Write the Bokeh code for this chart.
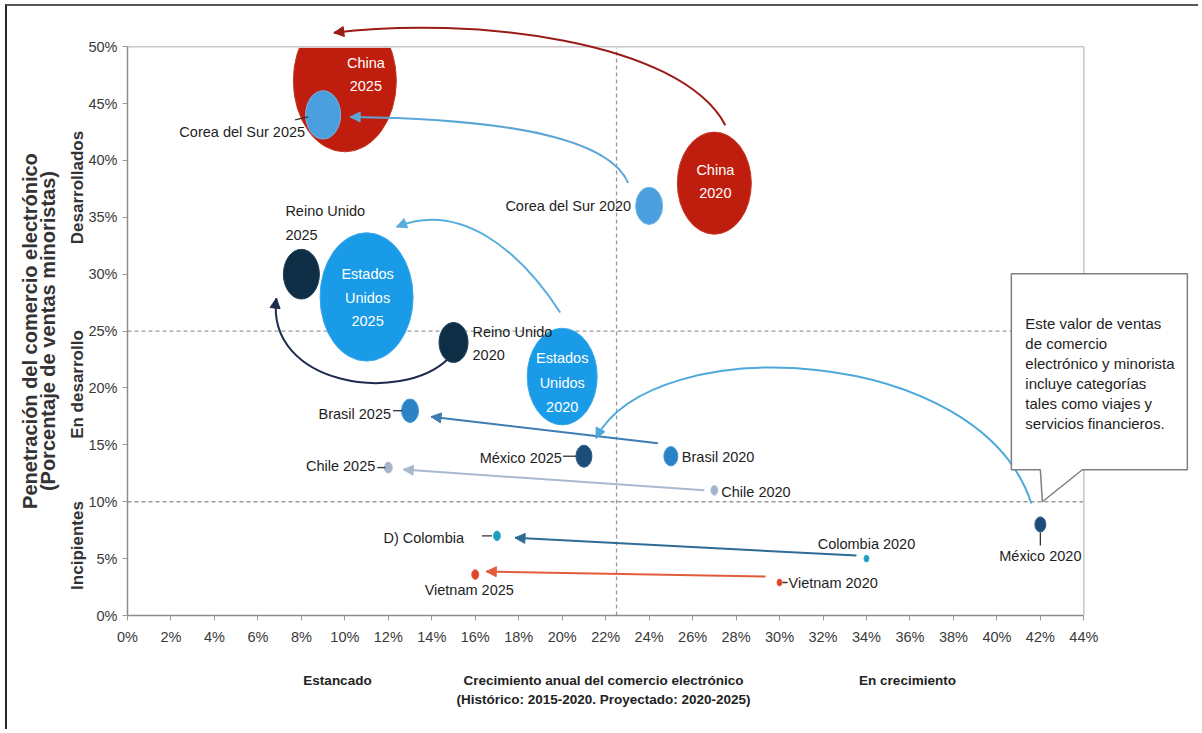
import numpy as np
from bokeh.plotting import figure
from bokeh.models import (ColumnDataSource, FixedTicker, Range1d, Arrow, NormalHead,
                          LinearAxis)
from bokeh.core.properties import value
from bokeh.embed import file_html
from bokeh.resources import INLINE

# ---------------- data ----------------
paises = ["China", "Corea del Sur", "Estados Unidos", "Reino Unido", "Brasil",
          "México", "Chile", "Colombia", "Vietnam"]
crecimiento_2020 = [27, 24, 20, 15, 25, 42, 27, 34, 30]
penetracion_2020 = [38, 36, 21, 24, 14, 8, 11, 5, 2.9]
crecimiento_2025 = [10, 9, 11, 8, 13, 21, 12, 17, 16]
penetracion_2025 = [47, 44, 28, 30, 18, 14, 13, 7, 3.6]
tamano_2020 = [7.4, 2.7, 7.0, 2.9, 1.4, 1.1, 0.7, 0.5, 0.5]
tamano_2025 = [10.3, 3.5, 9.3, 3.6, 1.7, 1.6, 0.8, 0.7, 0.7]

x_ticks = [0, 2, 4, 6, 8, 10, 12, 14, 16, 18, 20, 22, 24, 26, 28, 30, 32, 34, 36, 38, 40, 42, 44]
x_tick_labels = ["0%", "2%", "4%", "6%", "8%", "10%", "12%", "14%", "16%", "18%", "20%", "22%",
                 "24%", "26%", "28%", "30%", "32%", "34%", "36%", "38%", "40%", "42%", "44%"]
y_ticks = [0, 5, 10, 15, 20, 25, 30, 35, 40, 45, 50]
y_tick_labels = ["0%", "5%", "10%", "15%", "20%", "25%", "30%", "35%", "40%", "45%", "50%"]
umbral_crecimiento = 22.5
umbrales_penetracion = [10, 25]
grupos_crecimiento = ["Estancado",
                      "Crecimiento anual del comercio electrónico\n"
                      "(Histórico: 2015-2020. Proyectado: 2020-2025)",
                      "En crecimiento"]
grupos_penetracion = ["Desarrollados", "En desarrollo", "Incipientes"]
titulo_y = "Penetración del comercio electrónico\n(Porcentaje de ventas minoristas)"
nota = ["Este valor de ventas", "de comercio", "electrónico y minorista",
        "incluye categorías", "tales como viajes y", "servicios financieros."]

# ---------------- style ----------------
FONT = "Liberation Sans"
DARK = "#1e1e1e"
colores = ["#BF1E0E", "#4B9FDE", "#1A9BE7", "#0E2E46", "#2A83C6",
           "#1E4C78", "#A3B3C9", "#1C9CC0", "#E2432A"]
bordes = ["#C63A2A", "#76B6E6", "#3AA8EA", "#22415A", "#4A95CE",
          "#2F5D88", "#B5C2D4", "#3AAFCB", "#E5614A"]
flechas = ["#9B1B16", "#5CA6D6", "#5AAEDD", "#1D2B4F", "#3D7DB2",
           "#4CA9DA", "#A9BACF", "#2E6C97", "#E35B3D"]
ESCALA = 10.0       # px per size unit (horizontal)
ASPECTO = 1.38      # vertical / horizontal of each bubble

FX = 1065 / 49
FY = 603 / 53
FW, FH = 1065, 609
X0, X1 = 0, FW / FX
Y0, Y1 = 0, FH / FY


def px_of(x, y):
    return (x - X0) * FX, (Y1 - y) * FY


def data_of(px, py):
    return X0 + px / FX, Y1 - py / FY


def punto(i, anio):
    if anio == 2020:
        return crecimiento_2020[i], penetracion_2020[i]
    return crecimiento_2025[i], penetracion_2025[i]


def desplazado(i, anio, dx, dy):
    x, y = punto(i, anio)
    px, py = px_of(x, y)
    return data_of(px + dx, py + dy)


p = figure(width=1193, height=725, x_range=Range1d(X0, X1), y_range=Range1d(Y0, Y1),
           output_backend="svg", toolbar_location=None,
           min_border_left=120, min_border_right=8, min_border_top=0, min_border_bottom=116)
p.outline_line_color = None
p.background_fill_color = "white"
p.border_fill_color = "white"
p.grid.visible = False
p.styles = {"border-left": "2px solid #2a2a2a", "border-top": "2px solid #555555",
            "margin-left": "5px", "margin-top": "4px"}

# axes
for ax in (p.xaxis, p.yaxis):
    ax.axis_line_color = "#8C8C8C"
    ax.axis_line_width = 1.5
    ax.major_tick_line_color = "#9A9A9A"
    ax.major_tick_in = 0
    ax.major_tick_out = 5
    ax.minor_tick_line_color = None
    ax.major_label_text_font = FONT
    ax.major_label_text_font_size = "14.5px"
    ax.major_label_text_color = "#3a3a3a"
p.xaxis.ticker = FixedTicker(ticks=x_ticks)
p.xaxis.major_label_overrides = {t: l for t, l in zip(x_ticks, x_tick_labels)}
p.xaxis.bounds = (x_ticks[0], x_ticks[-1])
p.xaxis.major_label_standoff = 8
p.yaxis.ticker = FixedTicker(ticks=y_ticks)
p.yaxis.major_label_overrides = {t: l for t, l in zip(y_ticks, y_tick_labels)}
p.yaxis.bounds = (y_ticks[0], y_ticks[-1])
p.yaxis.major_label_standoff = 5

xmax, ymax = x_ticks[-1], y_ticks[-1]

# secondary axes carrying the group captions
pos_gx = [(X - 127) / FX for X in (337, 603, 907)]
ax_g = LinearAxis(ticker=FixedTicker(ticks=pos_gx),
                  major_label_overrides={t: l for t, l in zip(pos_gx, grupos_crecimiento)},
                  bounds=(x_ticks[0], x_ticks[-1]), axis_line_color=None,
                  major_tick_line_color=None, minor_tick_line_color=None,
                  major_label_standoff=19, major_label_text_font=FONT,
                  major_label_text_font_size="13.5px", major_label_text_font_style="bold",
                  major_label_text_color="#222222", major_label_text_line_height=1.28)
p.add_layout(ax_g, "below")

pos_gy = [(615 - Y) / FY for Y in (187, 384, 545)]
ay_g = LinearAxis(ticker=FixedTicker(ticks=pos_gy),
                  major_label_overrides={t: l for t, l in zip(pos_gy, grupos_penetracion)},
                  bounds=(y_ticks[0], y_ticks[-1]), axis_line_color=None,
                  major_tick_line_color=None, minor_tick_line_color=None,
                  major_label_orientation="parallel", major_label_standoff=-7,
                  major_label_text_font=FONT, major_label_text_font_size="17px",
                  major_label_text_font_style="bold", major_label_text_color="#333333")
p.add_layout(ay_g, "left")

centro_y = ymax / 2
ay_t = LinearAxis(ticker=FixedTicker(ticks=[centro_y]),
                  major_label_overrides={centro_y: titulo_y},
                  bounds=(y_ticks[0], y_ticks[-1]), axis_line_color=None,
                  major_tick_line_color=None, minor_tick_line_color=None,
                  major_label_orientation="parallel", major_label_standoff=-1,
                  major_label_text_font=FONT, major_label_text_font_size="20px",
                  major_label_text_font_style="bold", major_label_text_color="#333333",
                  major_label_text_line_height=0.85)
p.add_layout(ay_t, "left")

# threshold dashed lines
for u in umbrales_penetracion:
    p.line([0, xmax], [u, u], line_color="#9A9A9A", line_width=1.3, line_dash="4 3")
p.line([umbral_crecimiento, umbral_crecimiento], [0, ymax], line_color="#9A9A9A",
       line_width=1.3, line_dash="4 3")

# bubbles
bx, by, bw, bh, bc, bl = [], [], [], [], [], []
for i in range(len(paises)):
    for x, y, t in ((crecimiento_2025[i], penetracion_2025[i], tamano_2025[i]),
                    (crecimiento_2020[i], penetracion_2020[i], tamano_2020[i])):
        bx.append(x); by.append(y); bw.append(t * ESCALA); bh.append(t * ESCALA * ASPECTO)
        bc.append(colores[i]); bl.append(bordes[i])
orden = np.argsort(-np.array(bw), kind="stable")
src = ColumnDataSource(dict(x=[bx[k] for k in orden], y=[by[k] for k in orden],
                            w=[bw[k] for k in orden], h=[bh[k] for k in orden],
                            c=[bc[k] for k in orden], l=[bl[k] for k in orden]))
p.ellipse("x", "y", width="w", height="h", width_units="screen", height_units="screen",
          fill_color="c", line_color="l", line_width=1, source=src)

# clip above 50%
p.quad(left=[-1], right=[xmax], bottom=[ymax], top=[Y1 + 20], fill_color="white",
       line_color="white", line_width=2)

# frame (top / right)
p.line([0, xmax], [ymax, ymax], line_color="#C8C8C8", line_width=1.5)
p.line([xmax, xmax], [0, ymax], line_color="#C8C8C8", line_width=1.5)

# arrows: (start rel 2020, ctrl1 rel 2020, ctrl2 rel 2025, end rel 2025) in px
geom = {
    0: ((11, -58), (-34, -143), (126, -65), (-11, -48)),
    1: ((-21, -23), (-39, -65), (197, 4), (27, 2)),
    2: ((-2, -64), (-42, -126), (94, -96), (30, -70)),
    3: ((-5, 16), (-53, 63), (-36, 111), (-25, 24)),
    4: ((-13, -13), None, None, (21, 6)),
    5: ((-9, -21), (-60, -180), (70, -128), (12, -18)),
    6: ((-10, 0), None, None, (15, 2)),
    7: ((-10, -3), None, None, (18, 2)),
    8: ((-14, -6), None, None, (11, -3)),
}
for i, (s, c1, c2, e) in geom.items():
    P0 = desplazado(i, 2020, *s)
    P3 = desplazado(i, 2025, *e)
    C1 = desplazado(i, 2020, *c1) if c1 else P0
    C2 = desplazado(i, 2025, *c2) if c2 else P0
    lw = 2.0
    p.bezier(x0=[P0[0]], y0=[P0[1]], x1=[P3[0]], y1=[P3[1]], cx0=[C1[0]], cy0=[C1[1]],
             cx1=[C2[0]], cy1=[C2[1]], line_color=flechas[i], line_width=lw)
    ex, ey = px_of(*P3)
    cx, cy = px_of(*C2)
    d = np.hypot(cx - ex, cy - ey)
    tx, ty = data_of(ex + 4 * (cx - ex) / d, ey + 4 * (cy - ey) / d)
    p.add_layout(Arrow(end=NormalHead(size=10, fill_color=flechas[i], line_color=flechas[i],
                                      line_width=1),
                       x_start=tx, y_start=ty, x_end=P3[0], y_end=P3[1],
                       line_color=flechas[i], line_width=lw))

# leader lines
lideres = [(1, 2025, -28, 5, -15, 2), (4, 2025, -17, 0, -8, 0), (5, 2025, -21, 0, -8, 0),
           (6, 2025, -11, 0, -3, 0), (7, 2025, -15, 0, -5, 0), (8, 2020, 3, 0, 8, 0),
           (5, 2020, 0, 8, 0, 21)]
for i, a, dx0, dy0, dx1, dy1 in lideres:
    A = desplazado(i, a, dx0, dy0)
    B = desplazado(i, a, dx1, dy1)
    p.line([A[0], B[0]], [A[1], B[1]], line_color="#333333", line_width=1.3)

# bubble labels
etiquetas = [
    (0, 2025, "China", 21, -18, "center", "white"),
    (0, 2025, "2025", 21, 5, "center", "white"),
    (1, 2025, "Corea del Sur 2025", -18, 17, "right", DARK),
    (0, 2020, "China", 1, -13, "center", "white"),
    (0, 2020, "2020", 1, 10, "center", "white"),
    (1, 2020, "Corea del Sur 2020", -18, 0, "right", DARK),
    (3, 2025, "Reino Unido", -16, -63, "left", DARK),
    (3, 2025, "2025", -16, -39, "left", DARK),
    (2, 2025, "Estados", 1, -23, "center", "white"),
    (2, 2025, "Unidos", 1, 1, "center", "white"),
    (2, 2025, "2025", 1, 24, "center", "white"),
    (3, 2020, "Reino Unido", 19, -10, "left", DARK),
    (3, 2020, "2020", 19, 13, "left", DARK),
    (2, 2020, "Estados", 0, -19, "center", "white"),
    (2, 2020, "Unidos", 0, 6, "center", "white"),
    (2, 2020, "2020", 0, 30, "center", "white"),
    (4, 2025, "Brasil 2025", -19, 3, "right", DARK),
    (4, 2020, "Brasil 2020", 11, 1, "left", DARK),
    (5, 2025, "México 2025", -22, 2, "right", DARK),
    (6, 2025, "Chile 2025", -13, -2, "right", DARK),
    (6, 2020, "Chile 2020", 7, 2, "left", DARK),
    (7, 2025, "D) Colombia", -33, 2, "right", DARK),
    (7, 2020, "Colombia 2020", 0, -15, "center", DARK),
    (8, 2025, "Vietnam 2025", -6, 15, "center", DARK),
    (8, 2020, "Vietnam 2020", 9, 0, "left", DARK),
    (5, 2020, "México 2020", 0, 32, "center", DARK),
]
for al in ("left", "center", "right"):
    rows = [e for e in etiquetas if e[5] == al]
    xs, ys, ts, cs = [], [], [], []
    for i, a, t, dx, dy, _, c in rows:
        q = desplazado(i, a, dx, dy)
        xs.append(q[0]); ys.append(q[1]); ts.append(t); cs.append(c)
    p.text(x=xs, y=ys, text=ts, text_color=cs, text_align=al, text_baseline="middle",
           text_font=value(FONT), text_font_size="14.5px")

# callout box anchored on Mexico 2020 at the 10% threshold
tx0, ty0 = px_of(crecimiento_2020[5], umbrales_penetracion[0])
tx0 += 2
pts = [(-31, -228), (145, -228), (145, -32), (40, -32), (0, 0), (-2, -32), (-31, -32)]
cx_, cy_ = zip(*[data_of(tx0 + a, ty0 + b) for a, b in pts])
p.patch(list(cx_), list(cy_), fill_color="white", line_color="#7F7F7F", line_width=1.5)
nx, ny = [], []
for k, linea in enumerate(nota):
    q = data_of(tx0 - 17, ty0 - 178 + 20 * k)
    nx.append(q[0]); ny.append(q[1])
p.text(x=nx, y=ny, text=nota, text_color=DARK, text_align="left", text_baseline="middle",
       text_font=value(FONT), text_font_size="15px")

open("out.html", "w").write(file_html(p, INLINE))
